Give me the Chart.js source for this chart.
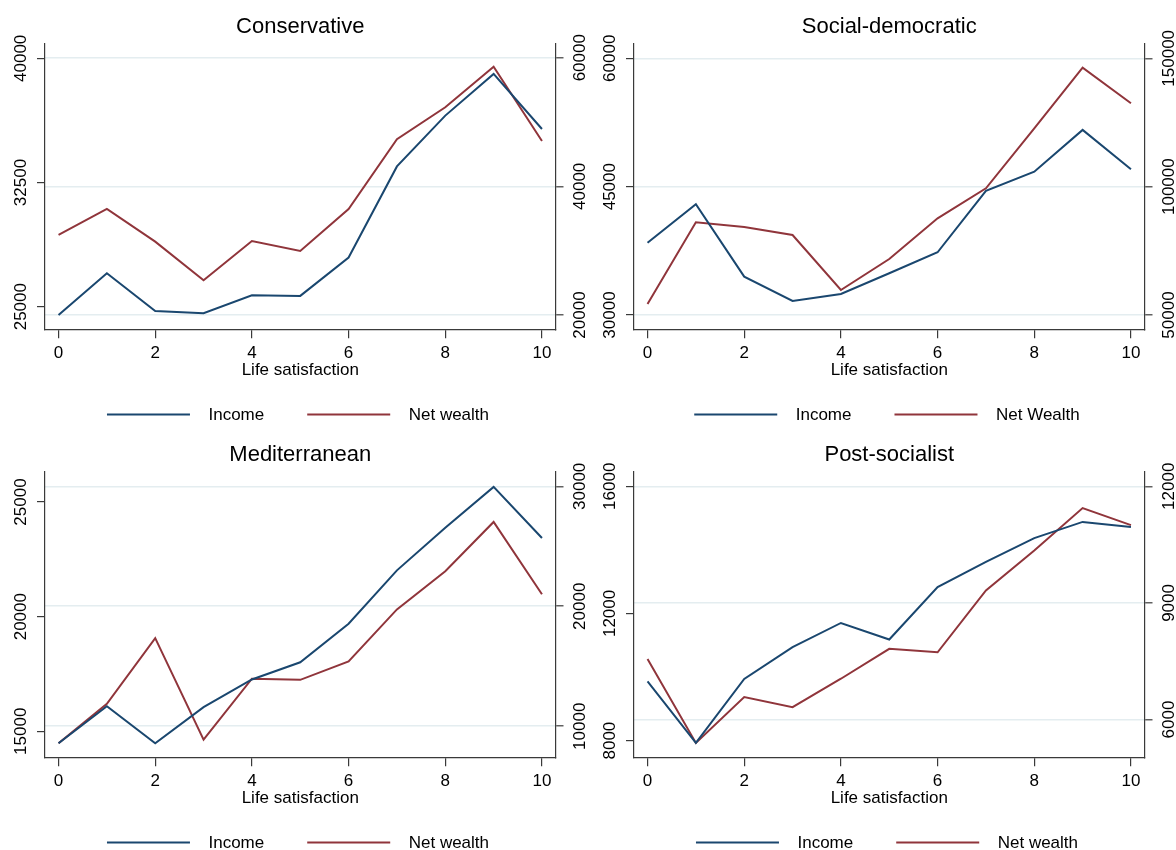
<!DOCTYPE html>
<html>
<head>
<meta charset="utf-8">
<script src="https://cdn.jsdelivr.net/npm/chart.js@4.4.1/dist/chart.umd.min.js"></script>
<style>
html, body { margin: 0; padding: 0; background: #ffffff; width: 1176px; height: 850px; overflow: hidden; }
.panel { position: absolute; }
canvas { display: block; }
</style>
</head>
<body>
<div class="panel" style="left:0px; top:0px;"><canvas id="c1" width="588" height="422"></canvas></div>
<div class="panel" style="left:589px; top:0px;"><canvas id="c2" width="587" height="422"></canvas></div>
<div class="panel" style="left:0px; top:428px;"><canvas id="c3" width="588" height="422"></canvas></div>
<div class="panel" style="left:589px; top:428px;"><canvas id="c4" width="587" height="422"></canvas></div>
<script>
// ---- data ----
const satisfaction = [0, 1, 2, 3, 4, 5, 6, 7, 8, 9, 10];
const xTicks = [0, 2, 4, 6, 8, 10];

const conservativeIncome = [24500, 27020, 24740, 24600, 25690, 25650, 27970, 33470, 36540, 39060, 35730];
const conservativeWealth = [32440, 36480, 31400, 25390, 31510, 29950, 36480, 47320, 52300, 58610, 47060];
const conservativeIncomeTicks = [25000, 32500, 40000];
const conservativeWealthTicks = [20000, 40000, 60000];

const socdemIncome = [38450, 42940, 34480, 31640, 32460, 34880, 37330, 44500, 46750, 51630, 47030];
const socdemWealth = [54290, 86120, 84290, 81170, 59740, 71820, 87670, 99360, 122740, 146350, 132480];
const socdemIncomeTicks = [30000, 45000, 60000];
const socdemWealthTicks = [50000, 100000, 150000];

const medIncome = [14480, 16090, 14480, 16050, 17260, 18010, 19690, 22020, 23880, 25660, 23430];
const medWealth = [8580, 11870, 17350, 8890, 13960, 13870, 15400, 19740, 22920, 27030, 21000];
const medIncomeTicks = [15000, 20000, 25000];
const medWealthTicks = [10000, 20000, 30000];

const postsocIncome = [9860, 7930, 9940, 10940, 11700, 11180, 12830, 13620, 14370, 14880, 14720];
const postsocWealth = [7560, 5400, 6580, 6320, 7050, 7820, 7730, 9320, 10350, 11440, 11000];
const postsocIncomeTicks = [8000, 12000, 16000];
const postsocWealthTicks = [6000, 9000, 12000];

const panelTitles = ['Conservative', 'Social-democratic', 'Mediterranean', 'Post-socialist'];
const incomeLabel = 'Income';
const wealthLabels = ['Net wealth', 'Net Wealth', 'Net wealth', 'Net wealth'];
const xTitle = 'Life satisfaction';

// ---- styling ----
const FONT = '"Liberation Sans", Arial, Helvetica, sans-serif';
const NAVY = '#1a476f';
const MAROON = '#90353b';
const AXIS = '#3a3a3a';
const GRID = '#e4edf0';
const TICK_FONT = 17;

const measureCtx = document.createElement('canvas').getContext('2d');
function widest(labels) {
  measureCtx.font = TICK_FONT + 'px ' + FONT;
  return Math.max(...labels.map(l => measureCtx.measureText(String(l)).width));
}

const stataLegend = {
  id: 'stataLegend',
  afterDraw(chart, args, opts) {
    const ctx = chart.ctx;
    ctx.save();
    ctx.font = opts.size + 'px ' + FONT;
    const items = chart.data.datasets.map(d => ({ label: d.label, color: d.borderColor, w: ctx.measureText(d.label).width }));
    const total = items.reduce((a, it) => a + opts.lineLen + opts.textGap + it.w, 0) + opts.itemGap * (items.length - 1);
    let x = opts.centerX - total / 2;
    const y = opts.y;
    items.forEach(it => {
      ctx.strokeStyle = it.color;
      ctx.lineWidth = 2;
      ctx.beginPath();
      ctx.moveTo(x, y);
      ctx.lineTo(x + opts.lineLen, y);
      ctx.stroke();
      x += opts.lineLen + opts.textGap;
      ctx.fillStyle = '#000';
      ctx.textBaseline = 'middle';
      ctx.textAlign = 'left';
      ctx.fillText(it.label, x, y + 1);
      x += it.w + opts.itemGap;
    });
    ctx.restore();
  }
};

const panels = [
  { id: 'c1', title: panelTitles[0], income: conservativeIncome, wealth: conservativeWealth, wealthLabel: wealthLabels[0],
    leftTicks: conservativeIncomeTicks, rightTicks: conservativeWealthTicks, leftRange: [23633, 40865], rightRange: [17776, 62130] },
  { id: 'c2', title: panelTitles[1], income: socdemIncome, wealth: socdemWealth, wealthLabel: wealthLabels[1],
    leftTicks: socdemIncomeTicks, rightTicks: socdemWealthTicks, leftRange: [28328, 61672], rightRange: [44429, 155571] },
  { id: 'c3', title: panelTitles[2], income: medIncome, wealth: medWealth, wealthLabel: wealthLabels[2],
    leftTicks: medIncomeTicks, rightTicks: medWealthTicks, leftRange: [13865, 26310], rightRange: [7412, 31194] },
  { id: 'c4', title: panelTitles[3], income: postsocIncome, wealth: postsocWealth, wealthLabel: wealthLabels[3],
    leftTicks: postsocIncomeTicks, rightTicks: postsocWealthTicks, leftRange: [7474, 16450], rightRange: [5029, 12368] }
];

function makeChart(p) {
  const canvas = document.getElementById(p.id);
  const W = canvas.width;
  const H = canvas.height;
  const leftW = 45, rightEdge = 555.5, plotBottom = 329.3;
  const yTL = 8;
  new Chart(canvas, {
    type: 'line',
    data: {
      datasets: [
        { label: incomeLabel, data: satisfaction.map((s, i) => ({ x: s, y: p.income[i] })), yAxisID: 'yL',
          borderColor: NAVY, backgroundColor: NAVY, borderWidth: 2, pointRadius: 0, tension: 0, fill: false },
        { label: p.wealthLabel, data: satisfaction.map((s, i) => ({ x: s, y: p.wealth[i] })), yAxisID: 'yR',
          borderColor: MAROON, backgroundColor: MAROON, borderWidth: 2, pointRadius: 0, tension: 0, fill: false }
      ]
    },
    options: {
      responsive: false,
      animation: false,
      events: [],
      layout: { padding: 0 },
      plugins: {
        legend: { display: false },
        tooltip: { enabled: false },
        title: { display: true, text: p.title, color: '#000', fullSize: false,
          font: { family: FONT, size: 22, weight: 'normal', lineHeight: 1.2 },
          padding: { top: 14, bottom: 3.6 } },
        stataLegend: { size: 17, lineLen: 83, textGap: 18.5, itemGap: 43, centerX: 298, y: 414.5 }
      },
      scales: {
        x: {
          type: 'linear', position: 'bottom', min: -0.28, max: 10.28,
          afterBuildTicks: s => { s.ticks = xTicks.map(v => ({ value: v })); },
          afterFit: s => { s.height = H - plotBottom; },
          grid: { display: true, drawOnChartArea: false, drawTicks: true, tickLength: 9, color: AXIS, lineWidth: 1.2 },
          border: { display: true, color: AXIS, width: 1.2 },
          ticks: { color: '#000', font: { family: FONT, size: TICK_FONT }, padding: 4.8, maxRotation: 0, autoSkip: false,
            callback: v => String(v) },
          title: { display: true, text: xTitle, color: '#000', font: { family: FONT, size: 17, lineHeight: 1.2 },
            padding: { top: 0, bottom: 41.8 } }
        },
        yL: {
          type: 'linear', position: 'left', min: p.leftRange[0], max: p.leftRange[1],
          afterBuildTicks: s => { s.ticks = p.leftTicks.map(v => ({ value: v })); },
          afterFit: s => { s.width = leftW; },
          grid: { display: true, drawOnChartArea: false, drawTicks: true, tickLength: yTL, color: AXIS, lineWidth: 1.2 },
          border: { display: true, color: AXIS, width: 1.2 },
          ticks: { color: '#000', font: { family: FONT, size: TICK_FONT }, minRotation: 90, maxRotation: 90,
            crossAlign: 'center', autoSkip: false, padding: 23.5 - yTL - widest(p.leftTicks) / 2,
            callback: v => String(v) }
        },
        yR: {
          type: 'linear', position: 'right', min: p.rightRange[0], max: p.rightRange[1],
          afterBuildTicks: s => { s.ticks = p.rightTicks.map(v => ({ value: v })); },
          afterFit: s => { s.width = W - rightEdge; },
          grid: { display: true, drawOnChartArea: true, drawTicks: true, tickLength: yTL, color: GRID, lineWidth: 1.6,
            tickColor: AXIS, tickWidth: 1.2 },
          border: { display: true, color: AXIS, width: 1.2 },
          ticks: { color: '#000', font: { family: FONT, size: TICK_FONT }, minRotation: 90, maxRotation: 90,
            crossAlign: 'center', autoSkip: false, padding: 24.5 - yTL - widest(p.rightTicks) / 2,
            callback: v => String(v) }
        }
      }
    },
    plugins: [stataLegend]
  });
}

panels.forEach(makeChart);
</script>
</body>
</html>
